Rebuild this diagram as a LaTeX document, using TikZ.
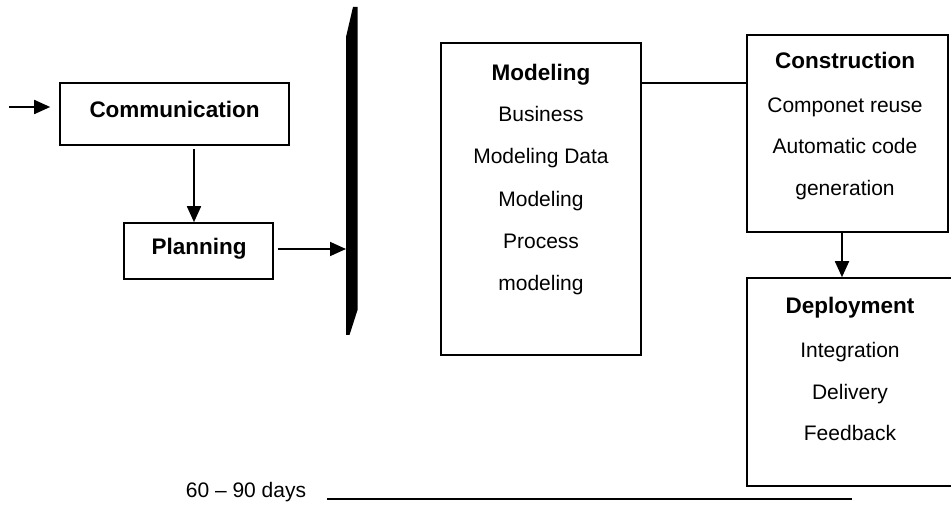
\documentclass[tikz,border=0pt]{standalone}
\usepackage{fontspec}
\setmainfont{Liberation Sans}
\usetikzlibrary{arrows.meta}
\tikzset{
  box/.style={draw, line width=1.6pt, inner sep=0pt},
  txt/.style={font=\fontsize{21}{25}\selectfont, text height=15pt, text depth=4pt, inner sep=0pt},
  hdr/.style={font=\bfseries\fontsize{22.5}{26}\selectfont, text height=15pt, text depth=4pt, inner sep=0pt},
  arr/.style={line width=1.8pt, -{Triangle[length=16pt,width=14pt]}},
  ln/.style={line width=1.8pt}
}
\begin{document}
\begin{tikzpicture}[x=1pt,y=-1pt]
\useasboundingbox (0,0) rectangle (951,521);
\clip (0,0) rectangle (951,521);
% boxes
\node[box, minimum width=229pt, minimum height=62pt] (comm) at (174.5,114) {};
\node[box, minimum width=149pt, minimum height=56pt] (plan) at (198.5,251) {};
\node[box, minimum width=200pt, minimum height=312pt] (mod) at (541,199) {};
\node[box, minimum width=201pt, minimum height=197pt] (con) at (847.5,133.5) {};
\node[box, minimum width=210pt, minimum height=208pt] (dep) at (852,382) {};
% box texts
\node[hdr] (commt) at (174.5,112) {Communication};
\node[hdr] (plant) at (199,249) {Planning};
\node[hdr] (m1) at (541,75) {Modeling};
\node[txt] (m2) at (541,116) {Business};
\node[txt] (m3) at (541,158) {Modeling Data};
\node[txt] (m4) at (541,201) {Modeling};
\node[txt] (m5) at (541,243) {Process};
\node[txt] (m6) at (541,285) {modeling};
\node[hdr] (c1) at (845,63) {Construction};
\node[txt] (c2) at (845,107) {Componet reuse};
\node[txt] (c3) at (845,148) {Automatic code};
\node[txt] (c4) at (845,190) {generation};
\node[hdr] (d1) at (850,308) {Deployment};
\node[txt] (d2) at (850,352) {Integration};
\node[txt] (d3) at (850,394) {Delivery};
\node[txt] (d4) at (850,435) {Feedback};
\node[txt] (days) at (246,492) {60 -- 90 days};
% bar
\fill (353,7) -- (357.5,7) -- (357.5,310) -- (349.5,335) -- (346,335) -- (346,37) -- cycle;
\coordinate (bar) at (346,249);
% connectors
\coordinate (instart) at (9,107);
\coordinate (cd) at (194,0);
\coordinate (cy) at (0,83);
\coordinate (ax) at (842,0);
\coordinate (l1) at (327,499);
\coordinate (l2) at (852,499);
\draw[arr, shorten >=9pt] (instart) -- (comm.west |- instart);
\draw[arr, shorten <=3pt] (comm.south -| cd) -- (plan.north -| cd);
\draw[arr, shorten <=4pt] (plan.east |- bar) -- (bar);
\draw[ln] (mod.east |- cy) -- (con.west |- cy);
\draw[arr] (con.south -| ax) -- (dep.north -| ax);
\draw[ln] (l1) -- (l2);
\end{tikzpicture}
\end{document}
